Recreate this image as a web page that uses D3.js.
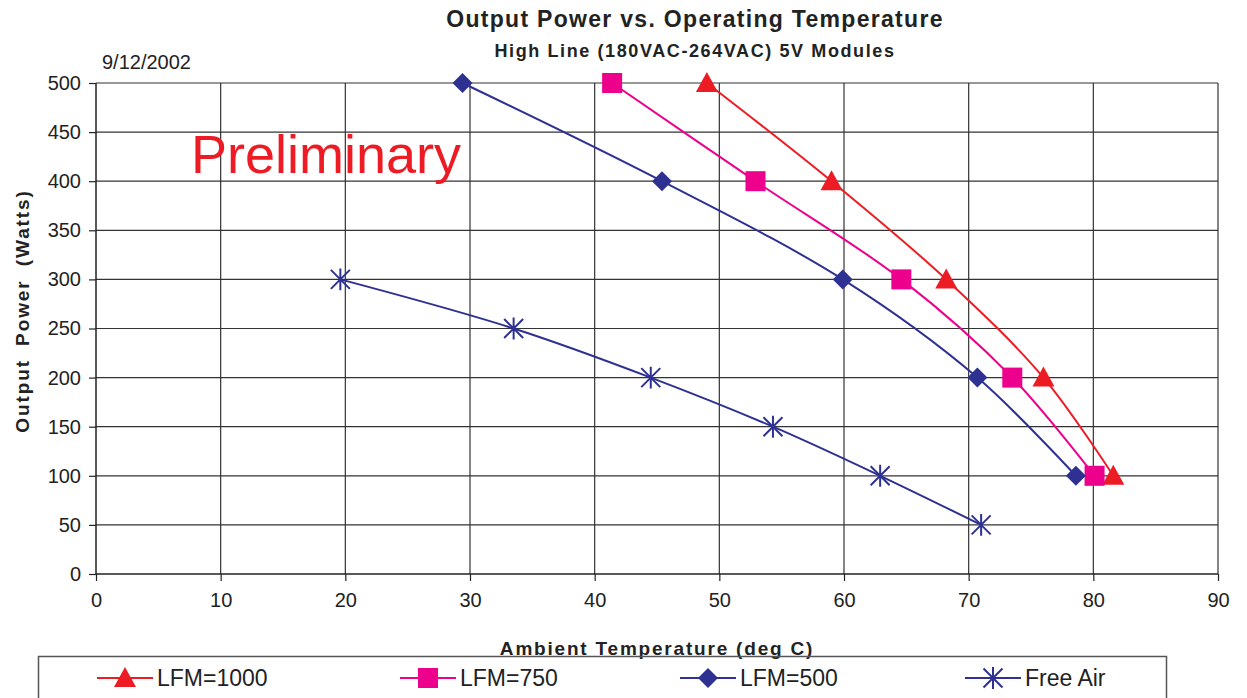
<!DOCTYPE html>
<html>
<head>
<meta charset="utf-8">
<script src="https://cdn.jsdelivr.net/npm/d3@7"></script>
<style>
  body { margin: 0; background: #fff; }
  svg { display: block; font-family: "Liberation Sans", Arial, sans-serif; }
</style>
</head>
<body>
<svg id="chart" width="1247" height="698"></svg>
<script>
// ---- data ----
var xTicks = [0, 10, 20, 30, 40, 50, 60, 70, 80, 90];
var yTicks = [0, 50, 100, 150, 200, 250, 300, 350, 400, 450, 500];

var lfm1000 = [[49.0, 500], [59.0, 400], [68.2, 300], [76.0, 200], [81.6, 100]];
var lfm750 = [[41.4, 500], [52.9, 400], [64.6, 300], [73.5, 200], [80.1, 100]];
var lfm500 = [[29.4, 500], [45.4, 400], [59.9, 300], [70.7, 200], [78.6, 100]];
var freeAir = [[19.6, 300], [33.5, 250], [44.5, 200], [54.3, 150], [62.9, 100], [71.0, 50]];

var seriesNames = ["LFM=1000", "LFM=750", "LFM=500", "Free Air"];
var seriesColors = ["#ed1c24", "#ec008c", "#2e3192", "#2e3192"];
var seriesMarkers = ["triangle", "square", "diamond", "asterisk"];

var series = [lfm1000, lfm750, lfm500, freeAir].map(function (d, i) {
  return { name: seriesNames[i], color: seriesColors[i], marker: seriesMarkers[i], values: d };
});

// ---- layout ----
var svg = d3.select("#chart");
var plotLeft = 96, plotRight = 1218, plotTop = 83, plotBottom = 574;

var x = d3.scaleLinear().domain([0, 90]).range([plotLeft, plotRight]);
var y = d3.scaleLinear().domain([0, 500]).range([plotBottom, plotTop]);

// gridlines
svg.append("g").selectAll("line")
  .data(yTicks.slice(1))
  .enter().append("line")
  .attr("x1", plotLeft).attr("x2", plotRight)
  .attr("y1", function (d) { return y(d); })
  .attr("y2", function (d) { return y(d); })
  .attr("stroke", "#333").attr("stroke-width", 1.2);

svg.append("g").selectAll("line")
  .data(xTicks.slice(1))
  .enter().append("line")
  .attr("y1", plotTop).attr("y2", plotBottom)
  .attr("x1", function (d) { return x(d); })
  .attr("x2", function (d) { return x(d); })
  .attr("stroke", "#333").attr("stroke-width", 1.2);

// axes
var xAxis = d3.axisBottom(x).tickValues(xTicks).tickSize(7).tickPadding(12);
var yAxis = d3.axisLeft(y).tickValues(yTicks).tickSize(7).tickPadding(8);

var gx = svg.append("g").attr("transform", "translate(0," + plotBottom + ")").call(xAxis);
var gy = svg.append("g").attr("transform", "translate(" + plotLeft + ",0)").call(yAxis);

[gx, gy].forEach(function (g) {
  g.select(".domain").attr("stroke", "#222").attr("stroke-width", 1.5);
  g.selectAll(".tick line").attr("stroke", "#222").attr("stroke-width", 1.2);
  g.selectAll(".tick text").attr("font-size", 20).attr("fill", "#222")
    .attr("font-family", "Liberation Sans, Arial, sans-serif");
});
gx.select(".domain").attr("d", "M" + plotLeft + ",0H" + plotRight);
gy.select(".domain").attr("d", "M0," + plotBottom + "V" + plotTop);

// lines
var line = d3.line()
  .x(function (d) { return x(d[0]); })
  .y(function (d) { return y(d[1]); })
  .curve(d3.curveCatmullRom.alpha(0.5));

svg.append("g").selectAll("path")
  .data(series)
  .enter().append("path")
  .attr("d", function (d) { return line(d.values); })
  .attr("fill", "none")
  .attr("stroke", function (d) { return d.color; })
  .attr("stroke-width", 2);

// markers
function drawMarker(g, type, color) {
  if (type === "triangle") {
    g.append("path").attr("d", "M0,-11L11,9L-11,9Z").attr("fill", color);
  } else if (type === "square") {
    g.append("rect").attr("x", -10).attr("y", -10).attr("width", 20).attr("height", 20).attr("fill", color);
  } else if (type === "diamond") {
    g.append("path").attr("d", "M0,-10L10,0L0,10L-10,0Z").attr("fill", color);
  } else {
    var s = 9.5;
    g.append("path")
      .attr("d", "M" + -s + "," + -s + "L" + s + "," + s + "M" + -s + "," + s + "L" + s + "," + -s + "M0," + -s * 1.15 + "V" + s * 1.15)
      .attr("stroke", color).attr("stroke-width", 2).attr("fill", "none");
  }
}

series.forEach(function (s) {
  s.values.forEach(function (p) {
    var g = svg.append("g").attr("transform", "translate(" + x(p[0]) + "," + y(p[1]) + ")");
    drawMarker(g, s.marker, s.color);
  });
});

// titles
svg.append("text").attr("x", 695).attr("y", 27).attr("text-anchor", "middle")
  .attr("font-size", 23).attr("font-weight", "bold").attr("fill", "#222")
  .attr("letter-spacing", 1.3)
  .text("Output Power vs. Operating Temperature");
svg.append("text").attr("x", 695).attr("y", 57).attr("text-anchor", "middle")
  .attr("font-size", 18).attr("font-weight", "bold").attr("fill", "#222")
  .attr("letter-spacing", 1.6)
  .text("High Line (180VAC-264VAC) 5V Modules");
svg.append("text").attr("x", 102).attr("y", 69)
  .attr("font-size", 20).attr("fill", "#222").text("9/12/2002");
svg.append("text").attr("x", 191).attr("y", 173)
  .attr("font-size", 54).attr("fill", "#ed1c24").text("Preliminary");

svg.append("text").attr("x", 657).attr("y", 655).attr("text-anchor", "middle")
  .attr("font-size", 19).attr("font-weight", "bold").attr("fill", "#222")
  .attr("letter-spacing", 1.8)
  .text("Ambient Temperature (deg C)");
svg.append("text")
  .attr("transform", "translate(29,311) rotate(-90)")
  .attr("text-anchor", "middle")
  .attr("font-size", 19).attr("font-weight", "bold").attr("fill", "#222")
  .attr("letter-spacing", 1.9).attr("word-spacing", 6)
  .text("Output Power (Watts)");

// legend
svg.append("rect").attr("x", 38.5).attr("y", 656.5).attr("width", 1128).attr("height", 60)
  .attr("fill", "none").attr("stroke", "#555").attr("stroke-width", 1.5);

var legendX = [97, 400, 680, 965];
series.forEach(function (s, i) {
  var lx = legendX[i], ly = 678;
  svg.append("line").attr("x1", lx).attr("x2", lx + 56).attr("y1", ly).attr("y2", ly)
    .attr("stroke", s.color).attr("stroke-width", 2);
  var g = svg.append("g").attr("transform", "translate(" + (lx + 28) + "," + ly + ")");
  drawMarker(g, s.marker, s.color);
  svg.append("text").attr("x", lx + 60).attr("y", ly + 8)
    .attr("font-size", 23).attr("fill", "#222").text(s.name);
});
</script>
</body>
</html>
